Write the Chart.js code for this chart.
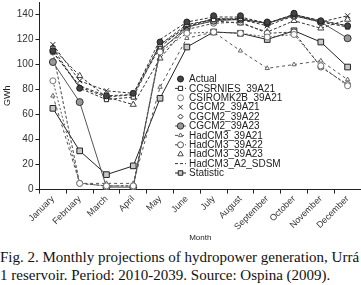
<!DOCTYPE html>
<html>
<head>
<meta charset="utf-8">
<script src="https://cdn.jsdelivr.net/npm/chart.js"></script>
<style>
  body { margin: 0; background: #fff; width: 361px; height: 285px; overflow: hidden; }
  #wrap { position: relative; width: 361px; height: 243px; }
  #caption { font-family: "Liberation Serif", "Times New Roman", serif; font-size: 15px; line-height: 18px; color: #111; white-space: nowrap; margin-top: 5px; }
</style>
</head>
<body>
<div id="wrap"><canvas id="miGrafico"></canvas></div>
<div id="caption">Fig. 2. Monthly projections of hydropower generation, Urrá<br>1 reservoir. Period: 2010-2039. Source: Ospina (2009).</div>
<script>
const meses = ['January', 'February', 'March', 'April', 'May', 'June', 'July', 'August', 'September', 'October', 'November', 'December'];
const yTicks = [0, 20, 40, 60, 80, 100, 120, 140];

const actual       = [111, 81, 75, 77, 118, 134, 139, 139, 134, 141, 135, 131];
const ccsrnies     = [113, 81, 72, 74, 116, 132, 136, 137, 133, 140, 134, 130];
const csiro        = [87, 5, 3, 3, 110, 125, 126, 125, 122, 124, 99, 83];
const cgcm2_a21    = [116, 87, 79, 77, 116, 130, 137, 136, 131, 139, 134, 139];
const cgcm2_a22    = [110, 82, 74, 76, 114, 131, 136, 136, 133, 140, 135, 131];
const cgcm2_a23    = [102, 70, 2, 2, 111, 130, 135, 136, 133, 139, 134, 121];
const hadcm3_a21   = [75, 5, 5, 5, 82, 121, 126, 111, 97, 100, 103, 88];
const hadcm3_a22   = [110, 5, 3, 3, 112, 128, 133, 134, 125, 126, 98, 84];
const hadcm3_a23   = [113, 91, 74, 68, 105, 130, 135, 133, 126, 135, 129, 136];
const hadcm3_sdsm  = [110, 83, 75, 76, 120, 134, 138, 138, 133, 140, 135, 131];
const statistic    = [65, 31, 12, 19, 73, 114, 126, 125, 120, 127, 118, 98];

const fuente = '"Liberation Sans", Arial, sans-serif';

// serie helper
function serie(label, data, o) {
    return Object.assign({
        label: label,
        data: data,
        borderColor: '#333',
        borderWidth: 1,
        borderDash: [3, 2],
        pointBorderColor: '#222',
        pointBackgroundColor: '#fff',
        pointBorderWidth: 1,
        pointRadius: 3,
        pointStyle: 'circle',
        tension: 0,
        fill: false,
        legendLine: false
    }, o);
}

const datasets = [
    serie('Actual', actual, { showLine: false, pointBackgroundColor: '#444', pointBorderColor: '#222', pointRadius: 3, order: 0 }),
    serie('CCSRNIES_39A21', ccsrnies, { pointStyle: 'rect', pointRadius: 3, legendLine: true }),
    serie('CSIROMK2B_39A21', csiro, { borderDash: [2, 2], borderColor: '#555', pointBorderColor: '#777', pointRadius: 3 }),
    serie('CGCM2_39A21', cgcm2_a21, { pointStyle: 'crossRot', pointRadius: 3.5 }),
    serie('CGCM2_39A22', cgcm2_a22, { pointStyle: 'rectRot', pointRadius: 2.5 }),
    serie('CGCM2_39A23', cgcm2_a23, { borderDash: [], borderColor: '#555', pointBackgroundColor: '#999', pointBorderColor: '#333', pointRadius: 3.5, legendLine: true }),
    serie('HadCM3_39A21', hadcm3_a21, { borderDash: [3, 3], borderColor: '#555', pointStyle: 'triangle', pointRadius: 2.5, pointBorderColor: '#666', legendLine: true }),
    serie('HadCM3_39A22', hadcm3_a22, { borderColor: '#444', pointRadius: 3, pointBorderColor: '#555', legendLine: true }),
    serie('HadCM3_39A23', hadcm3_a23, { pointStyle: 'triangle', pointRadius: 3.5, pointBorderColor: '#444' }),
    serie('HadCM3_A2_SDSM', hadcm3_sdsm, { pointRadius: 0, legendLine: true }),
    serie('Statistic', statistic, { borderDash: [], borderColor: '#222', pointStyle: 'rect', pointRadius: 4, pointBackgroundColor: '#c8c8c8', pointBorderColor: '#222', legendLine: true })
];

// legend drawn inside the plot, like the original figure
const leyendaInterna = {
    id: 'leyendaInterna',
    afterDatasetsDraw(chart) {
        const ctx = chart.ctx;
        const x0 = 175, y0 = 79, paso = 9.4;
        ctx.save();
        chart.data.datasets.forEach((ds, i) => {
            const y = y0 + i * paso;
            if (ds.legendLine) {
                ctx.beginPath();
                ctx.setLineDash(ds.borderDash || []);
                ctx.strokeStyle = ds.borderColor;
                ctx.lineWidth = 1;
                ctx.moveTo(x0, y);
                ctx.lineTo(x0 + 11, y);
                ctx.stroke();
                ctx.setLineDash([]);
            }
            if (ds.pointRadius > 0) {
                ctx.fillStyle = ds.pointBackgroundColor;
                ctx.strokeStyle = ds.pointBorderColor;
                ctx.lineWidth = 1;
                Chart.helpers.drawPoint(ctx, {
                    pointStyle: ds.pointStyle,
                    radius: Math.min(ds.pointRadius, 3.2),
                    rotation: 0,
                    borderWidth: 1
                }, x0 + 5.5, y);
            }
            ctx.fillStyle = '#222';
            ctx.font = '10px ' + fuente;
            ctx.textBaseline = 'middle';
            ctx.textAlign = 'left';
            ctx.fillText(ds.label, x0 + 14, y + 0.5);
        });
        ctx.restore();
    }
};

const ctx = document.getElementById('miGrafico').getContext('2d');
const miGrafico = new Chart(ctx, {
    type: 'line',
    data: {
        labels: meses,
        datasets: datasets
    },
    options: {
        responsive: true,
        maintainAspectRatio: false,
        animation: false,
        layout: { autoPadding: false, padding: { top: 2, right: 0, left: 2, bottom: 0 } },
        plugins: {
            legend: { display: false },
            tooltip: { enabled: false }
        },
        scales: {
            x: {
                offset: true,
                afterFit: (scale) => { scale.paddingRight = 0; },
                grid: { offset: true, drawOnChartArea: false, tickLength: 4, color: '#222' },
                border: { color: '#222', width: 1 },
                ticks: {
                    autoSkip: false, minRotation: 45, maxRotation: 45,
                    color: '#333', font: { family: fuente, size: 9 }, padding: 0
                },
                title: { display: true, text: 'Month', color: '#222', font: { family: fuente, size: 8 }, padding: { top: 1, bottom: 0 } }
            },
            y: {
                min: 0,
                max: 150,
                afterBuildTicks: (scale) => {
                    scale.ticks = yTicks.map(v => ({ value: v }));
                },
                afterFit: (scale) => { scale.paddingTop = 0; },
                grid: { drawOnChartArea: false, tickLength: 4, color: '#222' },
                border: { color: '#222', width: 1 },
                ticks: { color: '#333', font: { family: fuente, size: 10 }, padding: 2 },
                title: { display: true, text: 'GWh', color: '#222', font: { family: fuente, size: 9 }, padding: { top: 0, bottom: 2 } }
            }
        }
    },
    plugins: [leyendaInterna]
});
</script>
</body>
</html>
